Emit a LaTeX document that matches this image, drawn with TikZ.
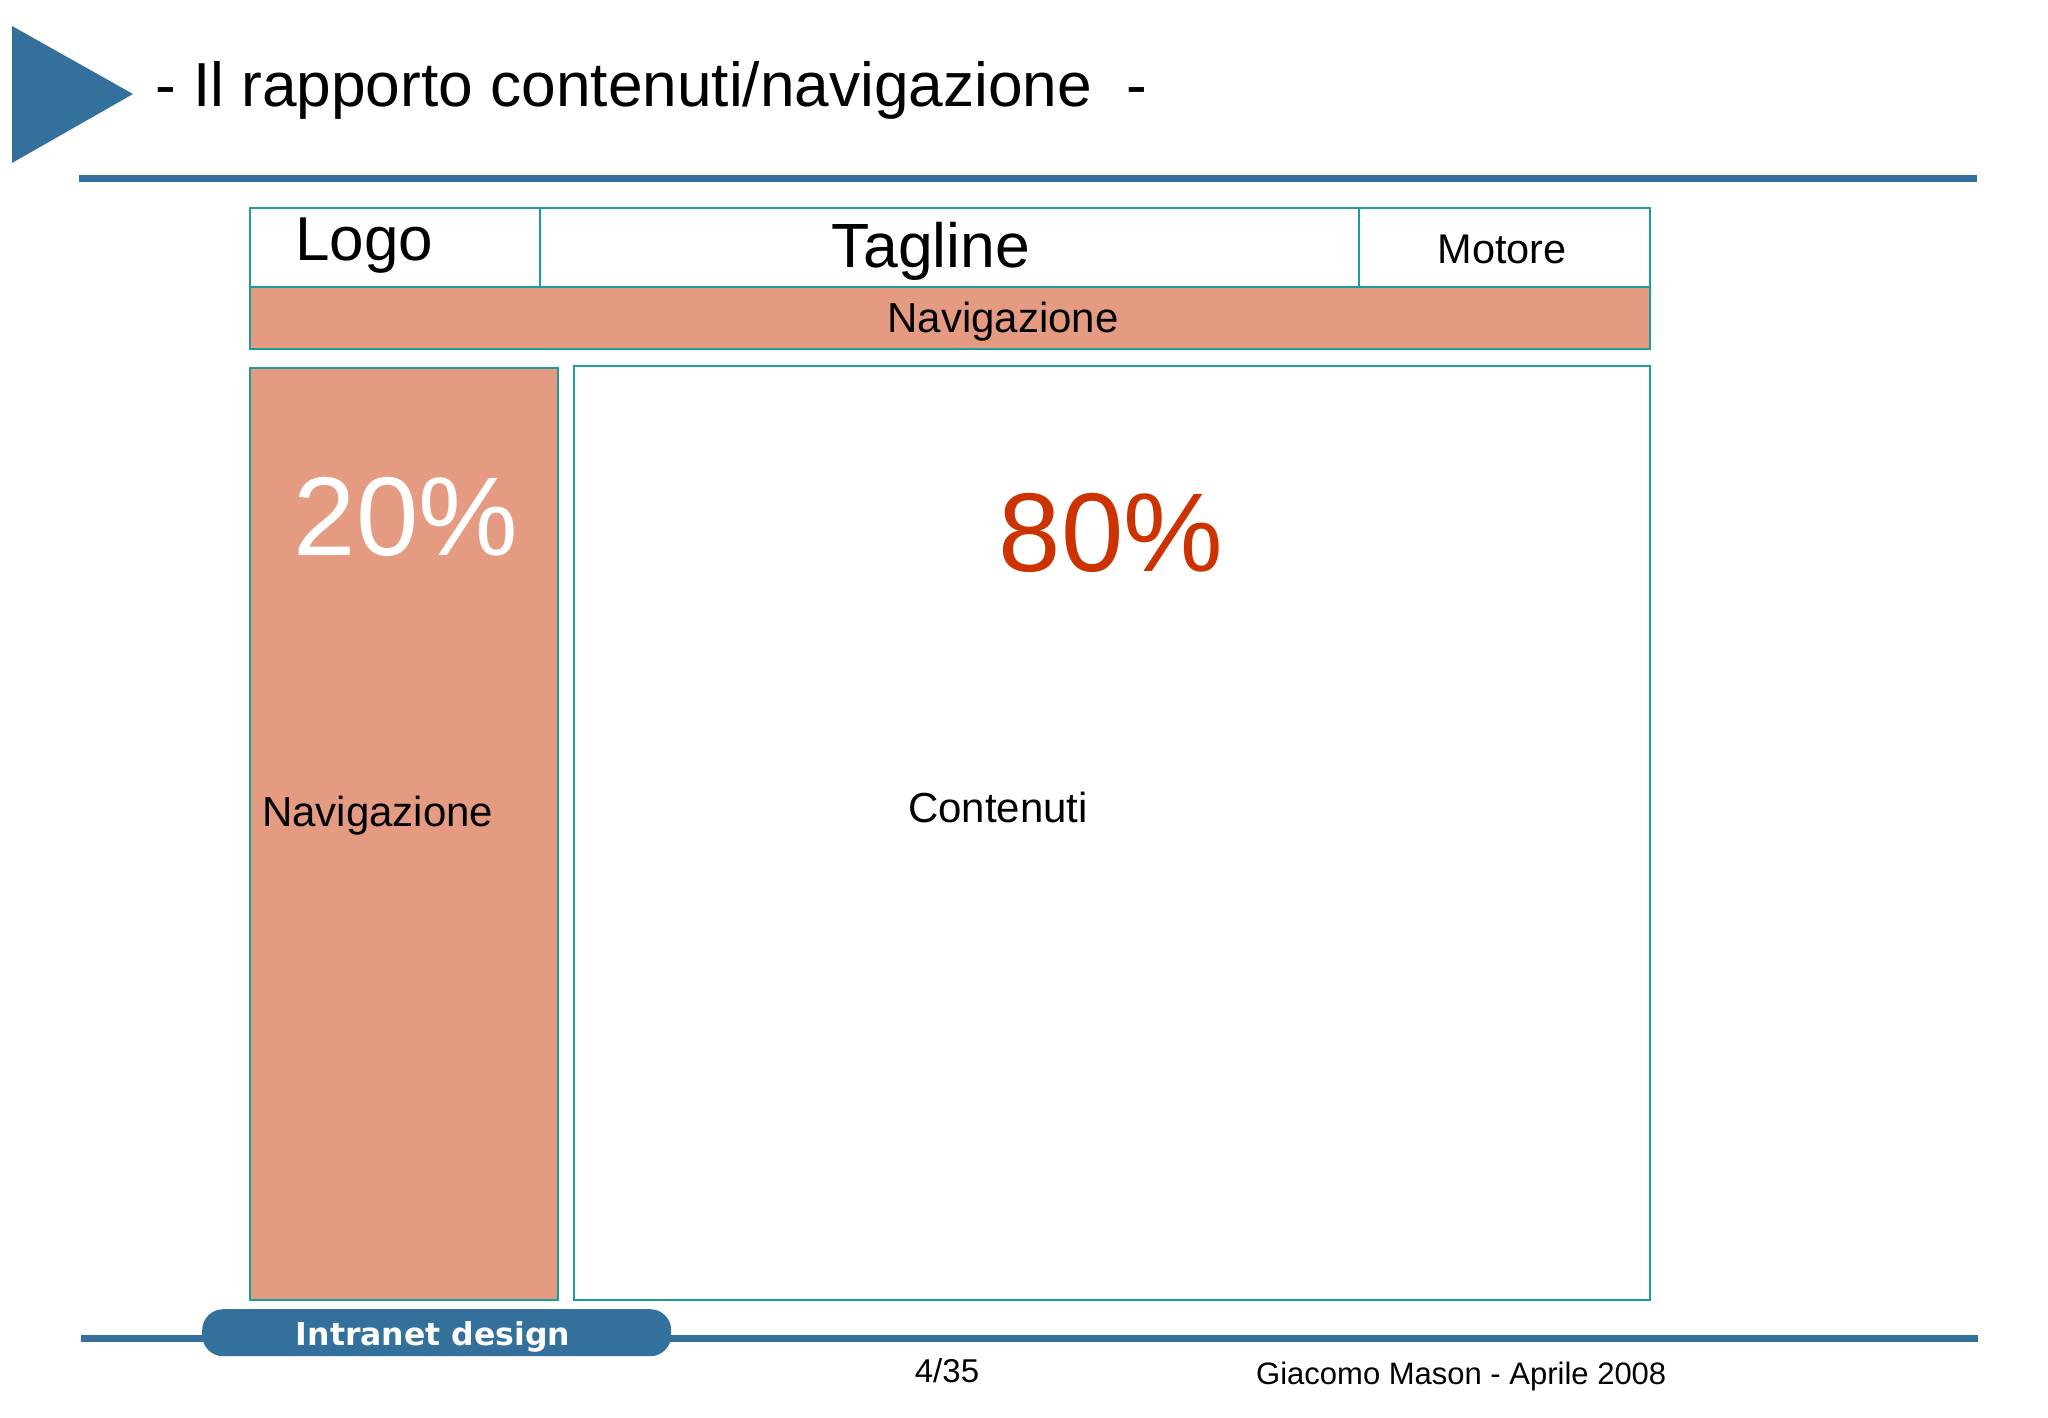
\documentclass[tikz,border=0pt]{standalone}
\usepackage{fontspec}
\setmainfont{Liberation Sans}
\newfontfamily\pillfont{DejaVu Sans}
\definecolor{slideblue}{RGB}{51,112,155}
\definecolor{salmon}{RGB}{229,154,130}
\definecolor{tealline}{RGB}{30,155,155}
\definecolor{pctred}{RGB}{204,51,0}
\newcommand{\fsz}[1]{\fontsize{#1}{#1}\selectfont}
\begin{document}
\begin{tikzpicture}[x=1pt,y=-1pt,
  frame/.style={draw=tealline,line width=2.2pt,inner sep=0pt,anchor=north west},
  navfill/.style={frame,fill=salmon},
  plainfill/.style={frame,fill=white},
  txt/.style={inner sep=0pt,anchor=base},
  rule/.style={draw=slideblue,line width=7pt}]
\useasboundingbox[fill=white] (0,0) rectangle (2048,1418);

% header triangle and title
\fill[slideblue] (12,26) -- (133,94) -- (12,163) -- cycle;
\node[txt,anchor=base west] (title) at (155,107) {\fsz{62.2}- Il rapporto contenuti/navigazione~~-};
\coordinate (tl) at (79,178.5);
\coordinate (tr) at (1977,178.5);
\draw[rule] (tl) -- (tr);

% header boxes
\node[plainfill,minimum width=290pt,minimum height=79pt] (logo) at (249,207) {};
\node[plainfill,minimum width=819pt,minimum height=79pt] (tag) at (539,207) {};
\node[plainfill,minimum width=291pt,minimum height=79pt] (mot) at (1358,207) {};
\node[navfill,minimum width=1400pt,minimum height=62pt] (navbar) at (249,286) {};
\node[txt,anchor=base west] (logot) at (295,260) {\fsz{62}Logo};
\node[txt] (tagt) at (931,267) {\fsz{62.5}Tagline};
\node[txt] (mott) at (1502,263) {\fsz{41.5}Motore};
\node[txt] (navbart) at (1003,332) {\fsz{42}Navigazione};

% body boxes
\node[navfill,minimum width=308pt,minimum height=932pt] (leftnav) at (249,367) {};
\node[plainfill,minimum width=1076pt,minimum height=934pt] (content) at (573,365) {};
\node[txt,text=white] (p20) at (406,555) {\fsz{112}20\%};
\node[txt,text=pctred] (p80) at (1111,571) {\fsz{112}80\%};
\node[txt,anchor=base west] (navl) at (262,826) {\fsz{42}Navigazione};
\node[txt] (cont) at (998,822) {\fsz{42}Contenuti};

% footer
\coordinate (bl) at (81,1338.5);
\coordinate (br) at (1978,1338.5);
\draw[rule] (bl) -- (br);
\node[fill=slideblue,rounded corners=21pt,minimum width=469pt,minimum height=47pt,inner sep=0pt,anchor=north west] (pill) at (202,1309) {};
\node[txt,text=white] (pillt) at (433,1345) {\pillfont\bfseries\fsz{31.5}Intranet design};
\node[txt] (page) at (947,1382) {\fsz{33}4/35};
\node[txt,anchor=base west] (author) at (1256,1384) {\fsz{31}Giacomo Mason - Aprile 2008};
\end{tikzpicture}
\end{document}
